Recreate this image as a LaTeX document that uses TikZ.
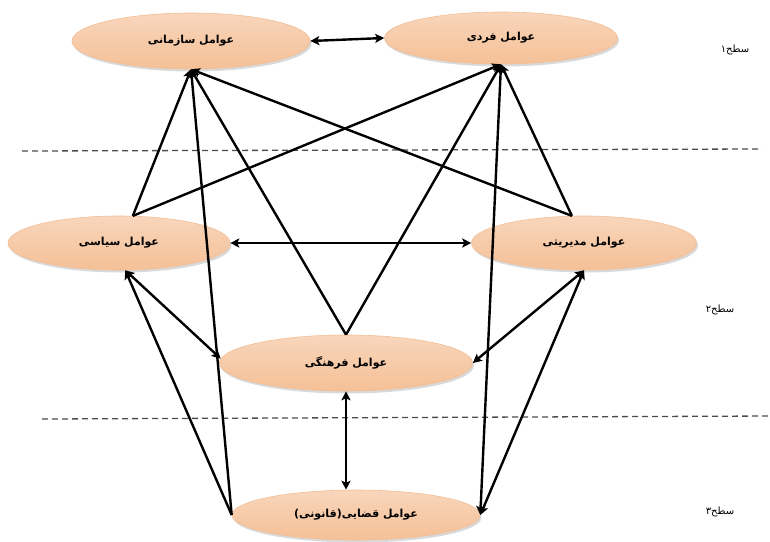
\documentclass[tikz,border=0pt]{standalone}
\usepackage{fontspec}
\usepackage{xcolor}
\usetikzlibrary{shapes.geometric, arrows, arrows.meta, positioning, calc, shadows}
\newfontfamily\farsi[Script=Arabic]{DejaVu Sans}
\TeXXeTstate=1
\definecolor{peachedge}{RGB}{248,214,188}
\definecolor{peachmid}{RGB}{253,236,224}
\definecolor{peachbot}{RGB}{245,192,150}
\definecolor{peachline}{RGB}{242,190,150}

\begin{document}
\begin{tikzpicture}[x=1pt, y=-1pt]
    \tikzstyle{factor} = [ellipse, draw=peachline, line width=0.6pt, top color=peachedge, middle color=peachmid, bottom color=peachbot, inner sep=0pt, drop shadow={opacity=0.3, shadow xshift=1.5pt, shadow yshift=-2.5pt}, font=\farsi\bfseries\fontsize{11}{13}\selectfont]
    \tikzstyle{arrow} = [line width=2.4pt,->,>={Stealth[length=9pt,width=9pt,inset=2pt]}]
    \tikzstyle{both} = [line width=2.4pt,<->,>={Stealth[length=9pt,width=9pt,inset=2pt]}]
    \tikzstyle{level} = [font=\farsi\fontsize{10}{12}\selectfont]
    \tikzstyle{divider} = [line width=1.3pt, black!70, dash pattern=on 6pt off 4pt]

    \useasboundingbox (0,0) rectangle (770,541);

    \draw[divider] (22,151) -- (762,149);
    \draw[divider] (42,419) -- (770,416);

    \node[factor, minimum width=238, minimum height=56] (org) at (191,41) {\beginR عوامل سازمانی\endR};
    \node[factor, minimum width=233, minimum height=52] (indiv) at (501,38) {\beginR عوامل فردی\endR};
    \node[factor, minimum width=222, minimum height=54] (pol) at (119,243) {\beginR عوامل سیاسی\endR};
    \node[factor, minimum width=225, minimum height=54] (mgmt) at (584,243) {\beginR عوامل مدیریتی\endR};
    \node[factor, minimum width=253, minimum height=56] (cult) at (346,363) {\beginR عوامل فرهنگی\endR};
    \node[factor, minimum width=248, minimum height=50] (legal) at (356,515) {\beginR عوامل قضایی(قانونی)\endR};

    \draw[both] (org.east) -- (indiv.west);
    \draw[both] (pol.east) -- (mgmt.west);
    \draw[both] (cult.south) -- (cult.south |- legal.north);

    \draw[arrow] (pol.63) -- (org.south);
    \draw[arrow] (pol.63) -- (indiv.south);
    \draw[arrow] (mgmt.114) -- (org.south);
    \draw[arrow] (mgmt.114) -- (indiv.south);
    \draw[arrow] (cult.north) -- (org.south);
    \draw[arrow] (cult.north) -- (indiv.south);
    \draw[arrow] (legal.west) -- (org.south);
    \draw[arrow] (legal.west) -- (pol.-77);
    \draw[both] (pol.-77) -- (cult.178);
    \draw[both] (indiv.south) -- (legal.east);
    \draw[both] (mgmt.south) -- (cult.east);
    \draw[both] (mgmt.south) -- (legal.east);

    \node[level] (lvl1) at (735,50) {\beginR سطح۱\endR};
    \node[level] (lvl2) at (720,310) {\beginR سطح۲\endR};
    \node[level] (lvl3) at (720,512) {\beginR سطح۳\endR};
\end{tikzpicture}
\end{document}
